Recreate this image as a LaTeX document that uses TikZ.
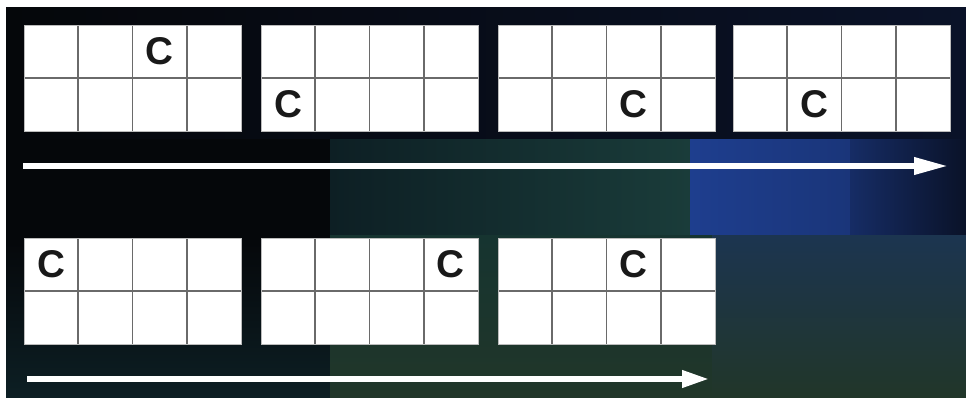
\documentclass[tikz,border=0pt]{standalone}
\usepackage{fontspec}
\setsansfont{Liberation Sans}
\usetikzlibrary{arrows.meta}
\definecolor{bgblack}{HTML}{05070A}
\definecolor{bgnavy}{HTML}{0A1228}
\definecolor{bgteal}{HTML}{1A3C3A}
\definecolor{bgdeep}{HTML}{0D1F24}
\definecolor{bgblue}{HTML}{1E3E8E}
\definecolor{bgsea}{HTML}{1C3550}
\definecolor{bgmoss}{HTML}{213629}
\definecolor{bgpine}{HTML}{163430}
\definecolor{cellgrey}{HTML}{6A6A6A}
\tikzset{
  gridline/.style={draw=cellgrey, line width=1.3pt},
  rimline/.style ={draw=cellgrey!45, line width=0.8pt},
  letter/.style  ={font=\sffamily\bfseries\fontsize{33}{33}\selectfont,
                   text=black!90, inner sep=0pt},
  flow/.style    ={draw=white, line width=4.8pt,
                   -{Triangle[length=#1, width=14pt]}},
  flow/.default=26pt,
}
% a 4 x 2 block of cells, top left corner at (#2,#3)
\newcommand{\cellblock}[3]{%
  \fill[white] (#2,#3) rectangle ++(217,106);
  \foreach \i in {1,2,3} { \draw[gridline] (#2+\i*54.25,#3) -- ++(0,106); }
  \draw[gridline] (#2,#3+53) -- ++(217,0);
  \draw[rimline] (#2,#3) rectangle ++(217,106);
  \coordinate (#1) at (#2,#3);
}
% the letter in column #4, row #5 of the block at (#2,#3)
\newcommand{\putletter}[5]{%
  \node[letter] (#1) at ({#2+(#4-0.5)*54.25},{#3+(#5-0.5)*53}) {C};%
}

\begin{document}
\begin{tikzpicture}[x=0.03cm, y=-0.03cm]
  % ---- background -----------------------------------------------------------
  \fill[white] (0,0) rectangle (966,398);
  \fill[bgblack] (6,8) rectangle (966,398);
  \shade[left color=bgblack, right color=bgnavy] (6,8) rectangle (966,140);
  \foreach \xa/\xb/\ca/\cb in {6/330/bgblack/bgblack, 330/690/bgdeep/bgteal,
                               690/850/bgblue/bgblue!80!bgnavy, 850/966/bgblue!60!bgnavy/bgnavy} {
    \shade[left color=\ca, right color=\cb] (\xa,140) rectangle (\xb,236);
  }
  \shade[top color=bgblack, bottom color=bgdeep] (6,236) rectangle (330,398);
  \shade[top color=bgpine, bottom color=bgmoss] (330,236) rectangle (712,398);
  \shade[top color=bgsea, bottom color=bgmoss] (712,236) rectangle (966,398);

  % ---- first pass -----------------------------------------------------------
  \cellblock{ga}{24}{25}
  \cellblock{gb}{261}{25}
  \cellblock{gc}{498}{25}
  \cellblock{gd}{733}{25}
  \putletter{ca}{24}{25}{3}{1}
  \putletter{cb}{261}{25}{1}{2}
  \putletter{cc}{498}{25}{3}{2}
  \putletter{cd}{733}{25}{2}{2}

  \coordinate (froma) at (23,166);
  \coordinate (toa)   at (948,166);
  \draw[flow=29pt] (froma) -- (toa);

  % ---- second pass ----------------------------------------------------------
  \cellblock{ge}{24}{238}
  \cellblock{gf}{261}{238}
  \cellblock{gg}{498}{238}
  \putletter{ce}{24}{238}{1}{1}
  \putletter{cf}{261}{238}{4}{1}
  \putletter{cg}{498}{238}{3}{1}

  \coordinate (fromb) at (27,379);
  \coordinate (tob)   at (709,379);
  \draw[flow=23pt] (fromb) -- (tob);
\end{tikzpicture}
\end{document}
